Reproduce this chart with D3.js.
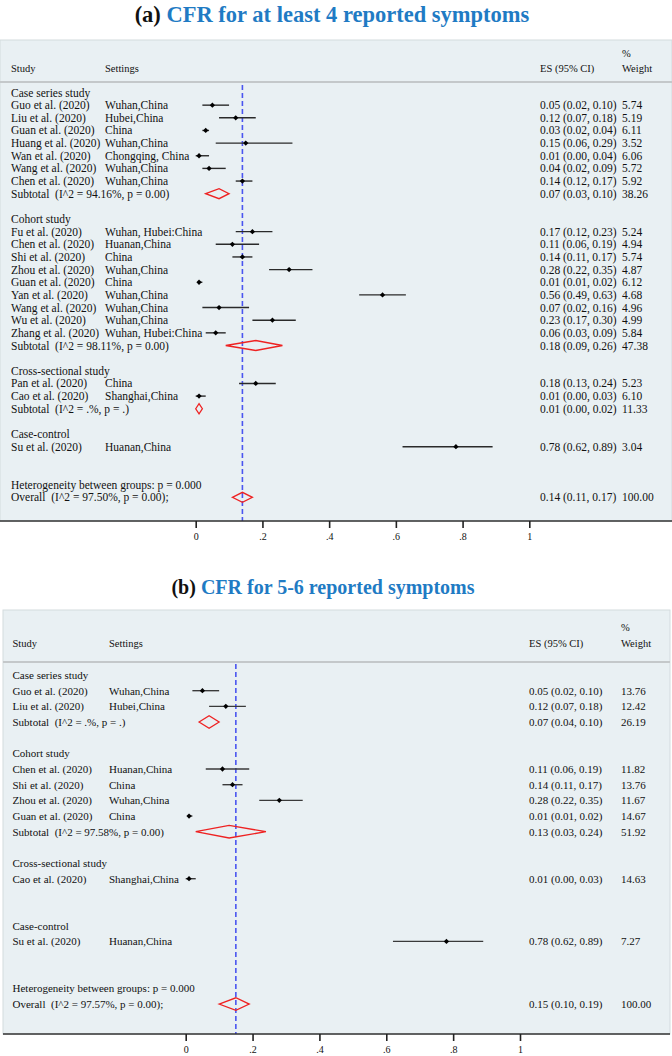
<!DOCTYPE html>
<html><head><meta charset="utf-8">
<script src="https://cdn.jsdelivr.net/npm/d3@7"></script>
<style>body{margin:0;background:#fff}svg{display:block}</style>
</head><body><div id="chart"></div>
<script>
// ---------- DATA ----------
const titlesPrefix = ["(a)", "(b)"];
const titlesText = ["CFR for at least 4 reported symptoms", "CFR for 5-6 reported symptoms"];
const headerLabels = ["Study", "Settings", "ES (95% CI)", "%", "Weight"];
const tickValues = [0, 0.2, 0.4, 0.6, 0.8, 1];
const tickLabels = ["0", ".2", ".4", ".6", ".8", "1"];

// panel (a)
const typesA = ["group","study","study","study","study","study","study","study","sub","blank",
  "group","study","study","study","study","study","study","study","study","study","sub","blank",
  "group","study","study","sub","blank","group","study","blank","blank","het","overall"];
const labelsA = ["Case series study","Guo et al. (2020)","Liu et al. (2020)","Guan et al. (2020)","Huang et al. (2020)","Wan et al. (2020)","Wang et al. (2020)","Chen et al. (2020)","Subtotal  (I^2 = 94.16%, p = 0.00)","",
  "Cohort study","Fu et al. (2020)","Chen et al. (2020)","Shi et al. (2020)","Zhou et al. (2020)","Guan et al. (2020)","Yan et al. (2020)","Wang et al. (2020)","Wu et al. (2020)","Zhang et al. (2020)","Subtotal  (I^2 = 98.11%, p = 0.00)","",
  "Cross-sectional study","Pan et al. (2020)","Cao et al. (2020)","Subtotal  (I^2 = .%, p = .)","","Case-control","Su et al. (2020)","","","Heterogeneity between groups: p = 0.000","Overall  (I^2 = 97.50%, p = 0.00);"];
const settingsA = ["","Wuhan,China","Hubei,China","China","Wuhan,China","Chongqing, China","Wuhan,China","Wuhan,China","","",
  "","Wuhan, Hubei:China","Huanan,China","China","Wuhan,China","China","Wuhan,China","Wuhan,China","Wuhan,China","Wuhan, Hubei:China","","",
  "","China","Shanghai,China","","","","Huanan,China","","","",""];
const esA  = [null,0.05,0.12,0.03,0.15,0.01,0.04,0.14,0.07,null, null,0.17,0.11,0.14,0.28,0.01,0.56,0.07,0.23,0.06,0.18,null, null,0.18,0.01,0.01,null,null,0.78,null,null,null,0.14];
const lciA = [null,0.02,0.07,0.02,0.06,0.00,0.02,0.12,0.03,null, null,0.12,0.06,0.11,0.22,0.01,0.49,0.02,0.17,0.03,0.09,null, null,0.13,0.00,0.00,null,null,0.62,null,null,null,0.11];
const uciA = [null,0.10,0.18,0.04,0.29,0.04,0.09,0.17,0.10,null, null,0.23,0.19,0.17,0.35,0.02,0.63,0.16,0.30,0.09,0.26,null, null,0.24,0.03,0.02,null,null,0.89,null,null,null,0.17];
const weightA = [null,5.74,5.19,6.11,3.52,6.06,5.72,5.92,38.26,null, null,5.24,4.94,5.74,4.87,6.12,4.68,4.96,4.99,5.84,47.38,null, null,5.23,6.10,11.33,null,null,3.04,null,null,null,100.00];

// panel (b)
const typesB = ["group","study","study","sub","blank","group","study","study","study","study","sub","blank",
  "group","study","blank","blank","group","study","blank","blank","het","overall"];
const labelsB = ["Case series study","Guo et al. (2020)","Liu et al. (2020)","Subtotal  (I^2 = .%, p = .)","",
  "Cohort study","Chen et al. (2020)","Shi et al. (2020)","Zhou et al. (2020)","Guan et al. (2020)","Subtotal  (I^2 = 97.58%, p = 0.00)","",
  "Cross-sectional study","Cao et al. (2020)","","","Case-control","Su et al. (2020)","","","Heterogeneity between groups: p = 0.000","Overall  (I^2 = 97.57%, p = 0.00);"];
const settingsB = ["","Wuhan,China","Hubei,China","","","","Huanan,China","China","Wuhan,China","China","","","","Shanghai,China","","","","Huanan,China","","","",""];
const esB  = [null,0.05,0.12,0.07,null,null,0.11,0.14,0.28,0.01,0.13,null,null,0.01,null,null,null,0.78,null,null,null,0.15];
const lciB = [null,0.02,0.07,0.04,null,null,0.06,0.11,0.22,0.01,0.03,null,null,0.00,null,null,null,0.62,null,null,null,0.10];
const uciB = [null,0.10,0.18,0.10,null,null,0.19,0.17,0.35,0.02,0.24,null,null,0.03,null,null,null,0.89,null,null,null,0.19];
const weightB = [null,13.76,12.42,26.19,null,null,11.82,13.76,11.67,14.67,51.92,null,null,14.63,null,null,null,7.27,null,null,null,100.00];

// ---------- DRAW ----------
const W = 672, H = 1056;
const svg = d3.select("#chart").append("svg").attr("width", W).attr("height", H);
const serif = "'Liberation Serif','Times New Roman',serif";
const f2 = d3.format(".2f");

const panels = [
  {types:typesA, labels:labelsA, settings:settingsA, es:esA, lci:lciA, uci:uciA, w:weightA,
   titleX:332, titleY:22, titleFs:22.5, boxTop:40, boxL:0, boxR:672, hdrLine:82, hdrPctY:53, hdrY:68, row0:92.5, step:12.65,
   axisY:521, x0:195.7, x1:529.3, cStudy:11, cSet:105, cES:540, cW:622, fs:11.5, hfs:10.5, dh:5, dashTop:85, ciCol:"#2a2a2a"},
  {types:typesB, labels:labelsB, settings:settingsB, es:esB, lci:lciB, uci:uciB, w:weightB,
   titleX:323, titleY:594, titleFs:20, boxTop:610, boxL:3, boxR:670, hdrLine:662, hdrPctY:627, hdrY:643, row0:675, step:15.67,
   axisY:1034, x0:185.7, x1:520, cStudy:12.5, cSet:109, cES:529, cW:621, fs:11, hfs:10.5, dh:6.3, dashTop:664, ciCol:"#3a3a3a"}
];

panels.forEach((p, pi) => {
  const g = svg.append("g");
  // title
  const t = g.append("text").attr("x", p.titleX).attr("y", p.titleY)
    .attr("text-anchor", "middle").attr("font-family", serif).attr("font-weight", "bold").attr("font-size", p.titleFs);
  t.append("tspan").attr("fill", "#111").text(titlesPrefix[pi] + " ");
  t.append("tspan").attr("fill", "#1f7bc4").text(titlesText[pi]);

  // background box
  g.append("rect").attr("x", p.boxL).attr("y", p.boxTop).attr("width", p.boxR - p.boxL).attr("height", p.axisY - p.boxTop)
    .attr("fill", "#e9f0f3").attr("stroke", "#d3dbde").attr("stroke-width", 1);
  g.append("line").attr("x1", p.boxL).attr("x2", p.boxR).attr("y1", p.hdrLine).attr("y2", p.hdrLine)
    .attr("stroke", "#c4c8ca").attr("stroke-width", 2);

  // header
  const hdr = g.append("g").attr("font-family", serif).attr("font-size", p.hfs).attr("fill", "#111");
  hdr.append("text").attr("x", p.cStudy).attr("y", p.hdrY).attr("dy", "0.35em").text(headerLabels[0]);
  hdr.append("text").attr("x", p.cSet).attr("y", p.hdrY).attr("dy", "0.35em").text(headerLabels[1]);
  hdr.append("text").attr("x", p.cES).attr("y", p.hdrY).attr("dy", "0.35em").text(headerLabels[2]);
  hdr.append("text").attr("x", p.cW).attr("y", p.hdrPctY).attr("dy", "0.35em").text(headerLabels[3]);
  hdr.append("text").attr("x", p.cW).attr("y", p.hdrY).attr("dy", "0.35em").text(headerLabels[4]);

  const x = d3.scaleLinear().domain([0, 1]).range([p.x0, p.x1]);
  const y = i => p.row0 + i * p.step;
  const rows = p.types.map((type, i) => ({type, i, label:p.labels[i], set:p.settings[i], es:p.es[i], l:p.lci[i], u:p.uci[i], w:p.w[i]}));

  // dashed overall line
  const ov = rows.find(r => r.type === "overall");
  g.append("line").attr("x1", x(ov.es)).attr("x2", x(ov.es)).attr("y1", p.dashTop).attr("y2", p.axisY)
    .attr("stroke", "#4a55f0").attr("stroke-width", 1.6).attr("stroke-dasharray", "5,3");

  // text
  const txt = g.append("g").attr("font-family", serif).attr("font-size", p.fs).attr("fill", "#111");
  rows.forEach(r => {
    if (r.label) txt.append("text").attr("x", p.cStudy).attr("y", y(r.i)).attr("dy", "0.35em")
      .style("white-space", "pre").text(r.label);
    if (r.set) txt.append("text").attr("x", p.cSet).attr("y", y(r.i)).attr("dy", "0.35em").text(r.set);
    if (r.es != null) {
      txt.append("text").attr("x", p.cES).attr("y", y(r.i)).attr("dy", "0.35em")
        .text(`${f2(r.es)} (${f2(r.l)}, ${f2(r.u)})`);
      txt.append("text").attr("x", p.cW).attr("y", y(r.i)).attr("dy", "0.35em").text(f2(r.w));
    }
  });

  // study CIs and points
  const st = rows.filter(r => r.type === "study");
  g.selectAll(null).data(st).join("line")
    .attr("x1", d => x(d.l)).attr("x2", d => x(d.u)).attr("y1", d => y(d.i)).attr("y2", d => y(d.i))
    .attr("stroke", p.ciCol).attr("stroke-width", 1.4);
  g.selectAll(null).data(st).join("path")
    .attr("d", d3.symbol().type(d3.symbolSquare).size(14))
    .attr("transform", d => `translate(${x(d.es)},${y(d.i)}) rotate(45)`).attr("fill", "#000");

  // diamonds
  const dm = rows.filter(r => r.type === "sub" || r.type === "overall");
  g.selectAll(null).data(dm).join("path")
    .attr("d", d => `M${x(d.l)},${y(d.i)}L${x(d.es)},${y(d.i) - p.dh}L${x(d.u)},${y(d.i)}L${x(d.es)},${y(d.i) + p.dh}Z`)
    .attr("fill", "none").attr("stroke", "#ee2222").attr("stroke-width", 1.3);

  // axis
  g.append("line").attr("x1", p.boxL).attr("x2", p.boxR).attr("y1", p.axisY).attr("y2", p.axisY)
    .attr("stroke", "#333").attr("stroke-width", 1.6);
  const ax = g.append("g").attr("transform", `translate(0,${p.axisY})`)
    .call(d3.axisBottom(x).tickValues(tickValues).tickFormat((d, i) => tickLabels[i]).tickSize(7).tickPadding(5));
  ax.select(".domain").remove();
  ax.selectAll(".tick line").attr("stroke", "#222").attr("stroke-width", 1.6);
  ax.selectAll(".tick text").attr("font-family", serif).attr("font-size", 10).attr("fill", "#111");
});
</script>
</body></html>
